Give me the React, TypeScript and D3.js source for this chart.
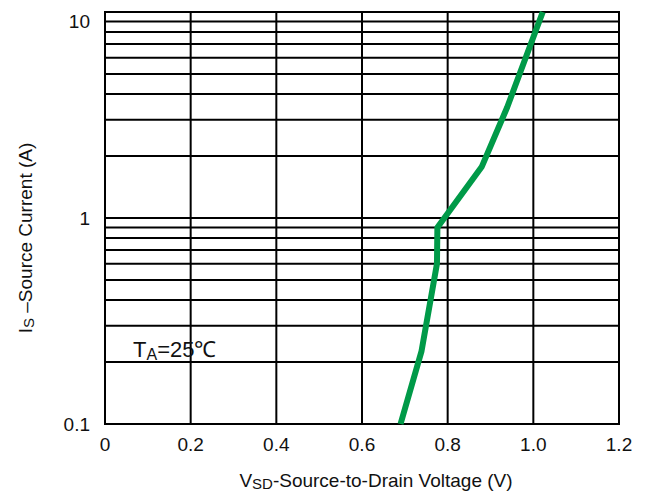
import React from 'react'
import * as d3 from 'd3'

// Is vs Vsd
const vsd = [0.69, 0.739, 0.775, 0.776, 0.88, 0.939, 1.022]
const isCurrent = [0.1, 0.226, 0.6, 0.9, 1.78, 3.45, 10]

const xTicks = [0, 0.2, 0.4, 0.6, 0.8, 1.0, 1.2]
const xTickLabels = ['0', '0.2', '0.4', '0.6', '0.8', '1.0', '1.2']
const yTicks = [0.1, 1, 10]
const yTickLabels = ['0.1', '1', '10']

const W = 653
const H = 495
const margin = { top: 12, right: 34, bottom: 72, left: 105 }
const FONT = '"Liberation Sans", Arial, Helvetica, sans-serif'

export default function App() {
  const x = d3.scaleLinear().domain([0, 1.2]).range([margin.left, W - margin.right])
  const y = d3.scaleLog().domain([0.1, 10]).range([H - margin.bottom + 1, margin.top])

  // grid rows: 1..9 in each decade
  const rows: number[] = []
  for (const dec of [0.1, 1]) {
    for (let k = 1; k <= 9; k++) rows.push(dec * k)
  }
  rows.push(10)

  const pts = vsd.map((v, i) => [v, isCurrent[i]] as [number, number])
  const line = d3.line<[number, number]>().x(d => x(d[0])).y(d => y(d[1]))

  const x0 = x(0), x1 = x(1.2), yTop = y(10), yBot = y(0.1)

  return (
    <svg width={W} height={H} style={{ position: 'absolute', left: 0, top: 0, background: '#fff' }} fontFamily={FONT}>
      <rect x={0} y={0} width={W} height={H} fill="#fff" />
      <g stroke="#000" strokeWidth={2}>
        {rows.map((r, i) => (
          <line key={'r' + i} x1={x0} x2={x1} y1={y(r)} y2={y(r)} />
        ))}
        {xTicks.map((t, i) => (
          <line key={'c' + i} x1={x(t)} x2={x(t)} y1={yTop} y2={yBot} />
        ))}
        <rect x={x0} y={yTop} width={x1 - x0} height={yBot - yTop} fill="none" />
      </g>

      <path d={line(pts) || ''} fill="none" stroke="#009a48" strokeWidth={6} strokeLinejoin="round" />

      {xTicks.map((t, i) => (
        <text key={'xl' + i} x={x(t)} y={451} fontSize={19} textAnchor="middle" fill="#111">
          {xTickLabels[i]}
        </text>
      ))}
      {yTicks.map((t, i) => (
        <text key={'yl' + i} x={90} y={Math.max(y(t) + 7, 28)} fontSize={19} textAnchor="end" fill="#111">
          {yTickLabels[i]}
        </text>
      ))}

      <text x={376} y={487} fontSize={19} textAnchor="middle" fill="#111">
        V<tspan fontSize={15} dy={2}>SD</tspan><tspan dy={-2}>-Source-to-Drain Voltage (V)</tspan>
      </text>

      <text transform={`translate(32,${(yTop + yBot) / 2 + 20}) rotate(-90)`} fontSize={19} textAnchor="middle" fill="#111">
        I<tspan fontSize={15} dy={2}>S</tspan><tspan dy={-2}> –Source Current (A)</tspan>
      </text>

      <text x={133} y={357} fontSize={22} fill="#111">
        T<tspan fontSize={16} dy={3}>A</tspan><tspan dy={-3}>=25℃</tspan>
      </text>
    </svg>
  )
}
